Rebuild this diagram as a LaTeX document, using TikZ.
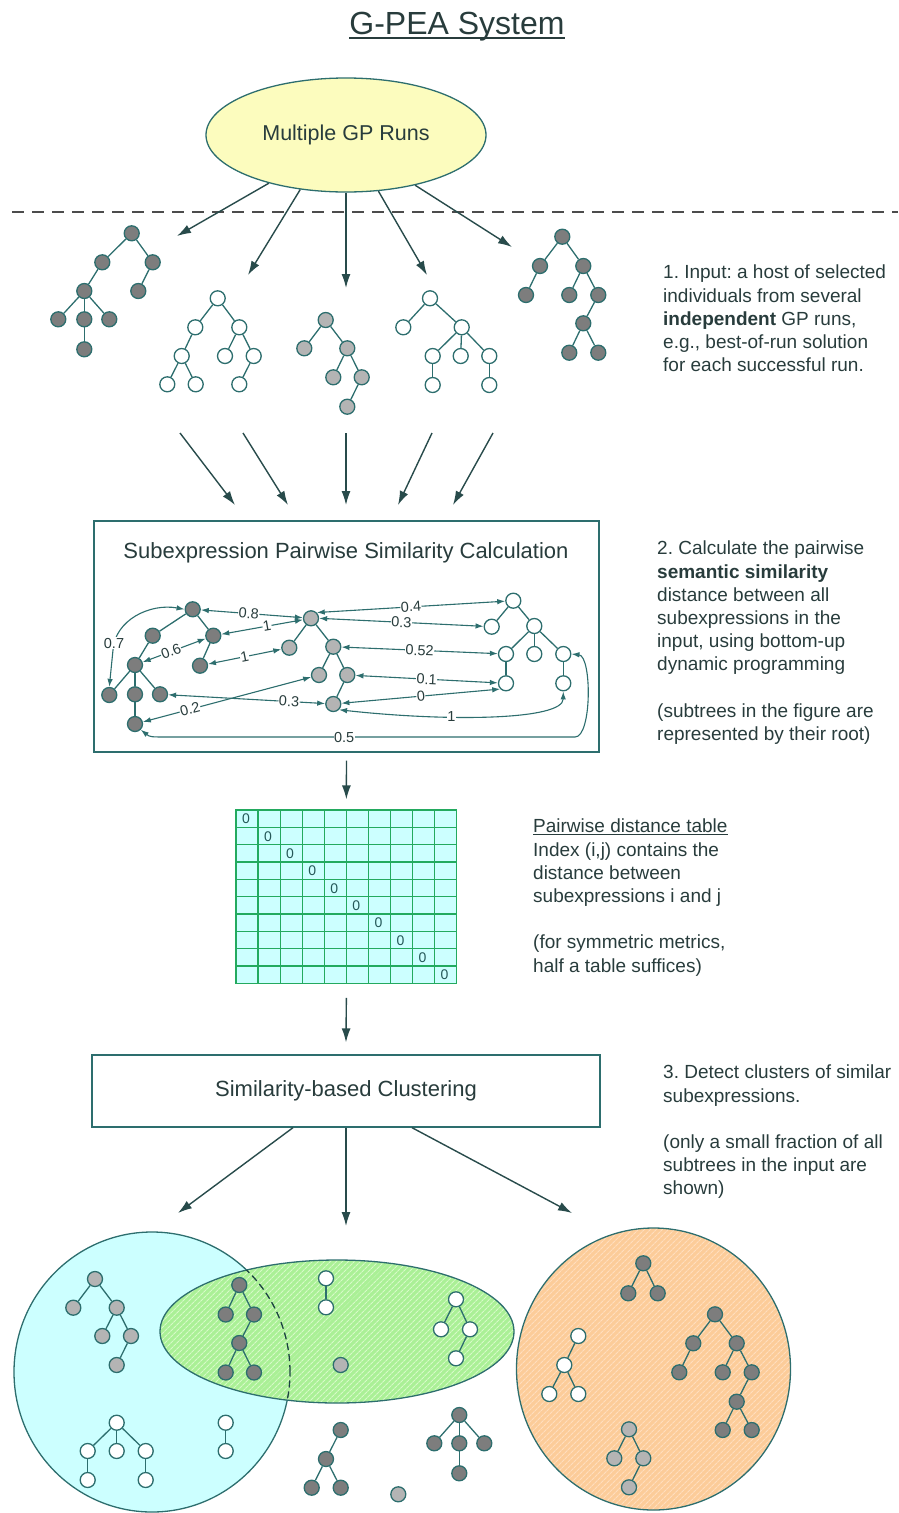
\documentclass[tikz,border=0pt]{standalone}
\usepackage{fontspec}
\setmainfont{Liberation Sans}
\usetikzlibrary{arrows.meta,patterns.meta,shapes.geometric}
\definecolor{edgecol}{RGB}{45,110,110}
\definecolor{txtcol}{RGB}{40,60,60}
\definecolor{arrcol}{RGB}{40,75,75}
\definecolor{darkfill}{RGB}{125,125,125}
\definecolor{lightfill}{RGB}{180,180,180}
\definecolor{yellowfill}{RGB}{252,252,190}
\definecolor{cyanfill}{RGB}{204,255,255}
\definecolor{gridcol}{RGB}{35,170,95}
\definecolor{greenfill}{RGB}{170,240,150}
\definecolor{greenhatch}{RGB}{215,250,200}
\definecolor{orangefill}{RGB}{252,204,153}
\definecolor{orangehatch}{RGB}{255,222,190}
\newcommand{\tedges}[1]{\foreach \a/\b in {#1} \draw[te] (\a) -- (\b);}
\frenchspacing
\begin{document}
\begin{tikzpicture}[x=1pt,y=-1pt,
  every node/.style={text=txtcol},
  dn/.style={circle,draw=edgecol,fill=darkfill,line width=1.3pt,minimum size=15pt,inner sep=0pt},
  ln/.style={dn,fill=lightfill},
  wn/.style={dn,fill=white},
  te/.style={draw=edgecol,line width=1.3pt},
  flow/.style={draw=arrcol,line width=1.4pt,-{Latex[length=14pt,width=9pt]}},
  sim/.style={draw=edgecol,line width=1.1pt,{Latex[length=8pt,width=5.5pt]}-{Latex[length=8pt,width=5.5pt]}},
  lbl/.style={fill=white,inner sep=0.5pt,font=\fontsize{14.5}{15}\selectfont},
  side/.style={anchor=north west,align=left,inner sep=0pt,font=\fontsize{19}{23.2}\selectfont},
  box/.style={draw=edgecol,line width=1.3pt,fill=white},
  zero/.style={font=\fontsize{14}{16}\selectfont,inner sep=0pt,text=edgecol!80!black},
  hatch/.style={pattern={Lines[angle=45,distance=4pt,line width=1.2pt]}}
]
\useasboundingbox (0,0) rectangle (898,1513);

% title
\node[font=\fontsize{32}{38}\selectfont,inner sep=0pt,anchor=base] (title) at (457,34) {G-PEA System};
\draw[txtcol,line width=1.3pt] ([yshift=-4pt]title.base west) -- ([yshift=-4pt]title.base east);

% GP runs
\node[ellipse,draw=edgecol,fill=yellowfill,line width=1.3pt,minimum width=280pt,minimum height=114pt,font=\fontsize{21.5}{24}\selectfont] (gp) at (346,135) {Multiple GP Runs};

\coordinate (dl) at (12,212);
\coordinate (dr) at (898,212);
\draw[black!70,line width=1.3pt,dash pattern=on 12pt off 8pt] (dl) -- (dr);

\coordinate (e1) at (177,236);
\coordinate (e2) at (248,275);
\coordinate (e3) at (346,288);
\coordinate (e4) at (427,275);
\coordinate (e5) at (512,247);
\draw[flow] (gp.212) -- (e1);
\draw[flow] (gp.230) -- (e2);
\draw[flow] (gp.270) -- (e3);
\draw[flow] (gp.300) -- (e4);
\draw[flow] (gp.324) -- (e5);

% top trees
\node[dn] (t1a) at (131.7,233.3) {};
\node[dn] (t1b) at (102.3,262.3) {};
\node[dn] (t1c) at (152.7,262.3) {};
\node[dn] (t1d) at (84.3,291) {};
\node[dn] (t1e) at (138.3,291) {};
\node[dn] (t1f) at (58.3,319.3) {};
\node[dn] (t1g) at (84.3,319.3) {};
\node[dn] (t1h) at (109.3,319.3) {};
\node[dn] (t1i) at (84.3,349.3) {};
\tedges{t1a/t1b,t1a/t1c,t1b/t1d,t1c/t1e,t1d/t1f,t1d/t1g,t1d/t1h,t1g/t1i}

\node[wn] (t2a) at (217.7,298.3) {};
\node[wn] (t2b) at (195.3,327.3) {};
\node[wn] (t2c) at (239.3,327.3) {};
\node[wn] (t2d) at (181.7,356) {};
\node[wn] (t2e) at (225,356) {};
\node[wn] (t2f) at (253.7,356) {};
\node[wn] (t2g) at (167.3,384.3) {};
\node[wn] (t2h) at (195.7,384.3) {};
\node[wn] (t2i) at (239.3,384.3) {};
\tedges{t2a/t2b,t2a/t2c,t2b/t2d,t2c/t2e,t2c/t2f,t2d/t2g,t2d/t2h,t2f/t2i}

\node[ln] (t3a) at (325.7,320) {};
\node[ln] (t3b) at (304.3,348.3) {};
\node[ln] (t3c) at (347.3,348.3) {};
\node[ln] (t3d) at (333.3,377.3) {};
\node[ln] (t3e) at (361.7,377.3) {};
\node[ln] (t3f) at (347.3,406.7) {};
\tedges{t3a/t3b,t3a/t3c,t3c/t3d,t3c/t3e,t3e/t3f}

\node[wn] (t4a) at (430,298.3) {};
\node[wn] (t4b) at (403.3,327.3) {};
\node[wn] (t4c) at (461.7,327.3) {};
\node[wn] (t4d) at (432.7,356) {};
\node[wn] (t4e) at (460.7,356) {};
\node[wn] (t4f) at (489.3,356) {};
\node[wn] (t4g) at (432.7,385) {};
\node[wn] (t4h) at (489.3,385) {};
\tedges{t4a/t4b,t4a/t4c,t4c/t4d,t4c/t4e,t4c/t4f,t4d/t4g,t4f/t4h}

\node[dn] (t5a) at (562.3,236.7) {};
\node[dn] (t5b) at (540,266) {};
\node[dn] (t5c) at (583.3,266) {};
\node[dn] (t5d) at (526,295) {};
\node[dn] (t5e) at (569.3,295) {};
\node[dn] (t5f) at (598.3,295) {};
\node[dn] (t5g) at (583.3,323.3) {};
\node[dn] (t5h) at (569.3,352.7) {};
\node[dn] (t5i) at (598.3,352.7) {};
\tedges{t5a/t5b,t5a/t5c,t5b/t5d,t5c/t5e,t5c/t5f,t5f/t5g,t5g/t5h,t5g/t5i}

% side text 1
\node[side] (txt1) at (663,265) {1. Input: a host of selected\\individuals from several\\\textbf{independent} GP runs,\\e.g., best-of-run solution\\for each successful run.};

% arrows into similarity box
\coordinate (m1s) at (180,433); \coordinate (m1e) at (235,505);
\coordinate (m2s) at (243,433); \coordinate (m2e) at (288,505);
\coordinate (m3s) at (346,433); \coordinate (m3e) at (346,505);
\coordinate (m4s) at (432,433); \coordinate (m4e) at (398,505);
\coordinate (m5s) at (493,433); \coordinate (m5e) at (453,505);
\draw[flow] (m1s) -- (m1e);
\draw[flow] (m2s) -- (m2e);
\draw[flow] (m3s) -- (m3e);
\draw[flow] (m4s) -- (m4e);
\draw[flow] (m5s) -- (m5e);

% similarity box
\node[box,minimum width=505pt,minimum height=231pt,inner sep=0pt] (simbox) at (346.5,636.5) {};
\node[font=\fontsize{22}{26}\selectfont] (simtitle) at (346,553) {Subexpression Pairwise Similarity Calculation};

\node[dn] (sL0) at (192.7,609.3) {};
\node[dn] (sL1) at (152.7,635.7) {};
\node[dn] (sL2) at (213.3,635.7) {};
\node[dn] (sL3) at (135,665) {};
\node[dn] (sL4) at (200,665.7) {};
\node[dn] (sL5) at (109.3,695) {};
\node[dn] (sL6) at (135,694.3) {};
\node[dn] (sL7) at (160,694.3) {};
\node[dn] (sL8) at (135,724) {};
\tedges{sL0/sL1,sL0/sL2,sL1/sL3,sL2/sL4,sL3/sL5,sL3/sL6,sL3/sL7,sL6/sL8}

\node[ln] (sM0) at (311,618.3) {};
\node[ln] (sM1) at (289.3,647.7) {};
\node[ln] (sM2) at (333.3,646.7) {};
\node[ln] (sM3) at (319,675) {};
\node[ln] (sM4) at (347.3,675) {};
\node[ln] (sM5) at (333.3,704) {};
\tedges{sM0/sM1,sM0/sM2,sM2/sM3,sM2/sM4,sM4/sM5}

\node[wn] (sR0) at (513.3,600.7) {};
\node[wn] (sR1) at (491.7,626.7) {};
\node[wn] (sR2) at (534.3,626) {};
\node[wn] (sR3) at (506,654) {};
\node[wn] (sR4) at (534.3,654) {};
\node[wn] (sR5) at (563.3,654) {};
\node[wn] (sR6) at (506,683.3) {};
\node[wn] (sR7) at (563.3,683.3) {};
\tedges{sR0/sR1,sR0/sR2,sR2/sR3,sR2/sR4,sR2/sR5,sR3/sR6,sR5/sR7}

\draw[sim] (sL0) -- node[lbl,sloped,pos=0.47] (l08) {0.8} (sM0);
\draw[sim] (sL2) -- node[lbl,sloped,pos=0.56] (l1a) {1} (sM0);
\draw[sim] (sL2) -- node[lbl,sloped,pos=0.55] (l06) {0.6} (sL3);
\draw[sim] (sL4) -- node[lbl,sloped] (l1b) {1} (sM1);
\draw[sim] (sM0.north east) -- node[lbl,sloped] (l04) {0.4} (sR0);
\draw[sim] (sM0.east) -- node[lbl,sloped] (l03a) {0.3} (sR1);
\draw[sim] (sM2) -- node[lbl,sloped] (l052) {0.52} (sR3);
\draw[sim] (sM4) -- node[lbl,sloped] (l01) {0.1} (sR6);
\draw[sim] (sM5) -- node[lbl,sloped] (l0) {0} (sR6.south west);
\draw[sim] (sL7) -- node[lbl,sloped,pos=0.77] (l03b) {0.3} (sM5);
\draw[sim] (sL8) -- node[lbl,sloped,pos=0.28] (l02) {0.2} (sM3);
\draw[sim] (sM5.south east) .. controls (450,722) and (563,720) .. node[lbl,pos=0.35] (l1c) {1} (sR7.south);
\draw[sim] (sL8.south east) .. controls (150,737) .. (170,737) -- node[lbl,pos=0.43] (l05) {0.5} (575,737) .. controls (592,737) and (592,656) .. (sR5.east);
\draw[sim] (sL5.north) -- (113,650) .. controls (115,620) and (150,603) .. (sL0.west);
\node[lbl] (l07) at (114,643) {0.7};

% side text 2
\node[side] (txt2) at (657,541) {2. Calculate the pairwise\\\textbf{semantic similarity}\\distance between all\\subexpressions in the\\input, using bottom-up\\dynamic programming\\[23.2pt](subtrees in the figure are\\represented by their root)};

% table
\node[draw=gridcol,fill=cyanfill,minimum width=220.7pt,minimum height=173.3pt,inner sep=0pt,line width=1.2pt] (tbl) at (346.35,896.65) {};
\foreach \i in {1,...,9} {
  \draw[gridcol,line width=1.2pt] ({236+\i*22.07},810) -- ({236+\i*22.07},983.3);
  \draw[gridcol,line width=1.2pt] (236,{810+\i*17.33}) -- (456.7,{810+\i*17.33});
}
\foreach \i in {0,...,9} \node[zero] (z\i) at ({246+\i*22.07},{819+\i*17.33}) {0};

\node[side] (txt3) at (533,819) {\underline{Pairwise distance table}\\Index (i,j) contains the\\distance between\\subexpressions i and j\\[23.2pt](for symmetric metrics,\\half a table suffices)};

\draw[flow] ([yshift=-8pt]simbox.south) -- ([yshift=10pt]tbl.north);

% clustering box
\node[box,minimum width=508pt,minimum height=72pt,font=\fontsize{22}{26}\selectfont] (clbox) at (346,1091) {Similarity-based Clustering};
\draw[flow] ([yshift=-14pt]tbl.south) -- ([yshift=12pt]clbox.north);

\node[side] (txt4) at (663,1065) {3. Detect clusters of similar\\subexpressions.\\[23.2pt](only a small fraction of all\\subtrees in the input are\\shown)};

\coordinate (c1e) at (178,1213);
\coordinate (c2e) at (346,1226);
\coordinate (c3e) at (572,1213);
\draw[flow] ([xshift=-53pt]clbox.south) -- (c1e);
\draw[flow] (clbox.south) -- (c2e);
\draw[flow] ([xshift=66pt]clbox.south) -- (c3e);

% clusters
\draw[edgecol,line width=1.3pt,fill=cyanfill] (152,1372) ellipse [x radius=138pt, y radius=140pt];
\fill[greenfill] (337,1331.5) ellipse [x radius=177pt, y radius=71.5pt];
\fill[hatch,pattern color=greenhatch] (337,1331.5) ellipse [x radius=177pt, y radius=71.5pt];
\draw[edgecol,line width=1.3pt] (337,1331.5) ellipse [x radius=177pt, y radius=71.5pt];
\begin{scope}
  \clip (337,1331.5) ellipse [x radius=177pt, y radius=71.5pt];
  \draw[edgecol!60!black,line width=1.3pt,dash pattern=on 7pt off 4pt] (152,1372) ellipse [x radius=138pt, y radius=140pt];
\end{scope}
\fill[orangefill] (653.5,1369) ellipse [x radius=137pt, y radius=141pt];
\fill[hatch,pattern color=orangehatch] (653.5,1369) ellipse [x radius=137pt, y radius=141pt];
\draw[edgecol,line width=1.3pt] (653.5,1369) ellipse [x radius=137pt, y radius=141pt];

\node[ln] (cAa) at (95,1279) {};
\node[ln] (cAb) at (73.3,1307.7) {};
\node[ln] (cAc) at (116.7,1307.7) {};
\node[ln] (cAd) at (102.3,1336) {};
\node[ln] (cAe) at (131,1336) {};
\node[ln] (cAf) at (116.7,1365) {};
\tedges{cAa/cAb,cAa/cAc,cAc/cAd,cAc/cAe,cAe/cAf}

\node[wn] (cBa) at (116.7,1422.7) {};
\node[wn] (cBb) at (87.7,1451) {};
\node[wn] (cBc) at (116.7,1451) {};
\node[wn] (cBd) at (145.7,1451) {};
\node[wn] (cBe) at (87.7,1480) {};
\node[wn] (cBf) at (145.7,1480) {};
\tedges{cBa/cBb,cBa/cBc,cBa/cBd,cBb/cBe,cBd/cBf}

\node[wn] (cCa) at (225.7,1422.7) {};
\node[wn] (cCb) at (225.7,1451) {};
\tedges{cCa/cCb}

\node[dn] (cDa) at (239.3,1285) {};
\node[dn] (cDb) at (225.7,1314.5) {};
\node[dn] (cDc) at (254,1314.5) {};
\node[dn] (cDd) at (239.3,1343) {};
\node[dn] (cDe) at (225.7,1372.5) {};
\node[dn] (cDf) at (254,1372.5) {};
\tedges{cDa/cDb,cDa/cDc,cDc/cDd,cDd/cDe,cDd/cDf}

\node[wn] (cEa) at (326,1278.3) {};
\node[wn] (cEb) at (326,1307.3) {};
\tedges{cEa/cEb}

\node[wn] (cFa) at (456,1299.3) {};
\node[wn] (cFb) at (441,1329.3) {};
\node[wn] (cFc) at (470,1329.3) {};
\node[wn] (cFd) at (456,1358.3) {};
\tedges{cFa/cFb,cFa/cFc,cFc/cFd}

\node[ln] (cGa) at (340.7,1365) {};

\node[dn] (cHa) at (340.7,1430) {};
\node[dn] (cHb) at (326,1459) {};
\node[dn] (cHc) at (311.7,1487.7) {};
\node[dn] (cHd) at (340.7,1487.7) {};
\tedges{cHa/cHb,cHb/cHc,cHb/cHd}

\node[ln] (cIa) at (398.3,1494.3) {};

\node[dn] (cJa) at (459.3,1415) {};
\node[dn] (cJb) at (434.3,1443.3) {};
\node[dn] (cJc) at (459.3,1443.3) {};
\node[dn] (cJd) at (484.3,1443.3) {};
\node[dn] (cJe) at (459.3,1473.3) {};
\tedges{cJa/cJb,cJa/cJc,cJa/cJd,cJc/cJe}

\node[dn] (cKa) at (643.3,1263.3) {};
\node[dn] (cKb) at (628.3,1293.3) {};
\node[dn] (cKc) at (657.7,1293.3) {};
\tedges{cKa/cKb,cKa/cKc}

\node[dn] (cLa) at (715,1314.3) {};
\node[dn] (cLb) at (693.3,1343.3) {};
\node[dn] (cLc) at (736.7,1343.3) {};
\node[dn] (cLd) at (679.3,1372.3) {};
\node[dn] (cLe) at (722.7,1372.3) {};
\node[dn] (cLf) at (751.7,1372.3) {};
\node[dn] (cLg) at (736.7,1401.7) {};
\node[dn] (cLh) at (722.7,1430) {};
\node[dn] (cLi) at (751.7,1430) {};
\tedges{cLa/cLb,cLa/cLc,cLb/cLd,cLc/cLe,cLc/cLf,cLf/cLg,cLg/cLh,cLg/cLi}

\node[wn] (cMa) at (578.3,1336) {};
\node[wn] (cMb) at (564.3,1365) {};
\node[wn] (cMc) at (549.3,1394) {};
\node[wn] (cMd) at (578.3,1394) {};
\tedges{cMa/cMb,cMb/cMc,cMb/cMd}

\node[ln] (cNa) at (629,1429.3) {};
\node[ln] (cNb) at (614.3,1458.3) {};
\node[ln] (cNc) at (643.3,1458.3) {};
\node[ln] (cNd) at (629,1487.3) {};
\tedges{cNa/cNb,cNa/cNc,cNc/cNd}

\end{tikzpicture}
\end{document}
